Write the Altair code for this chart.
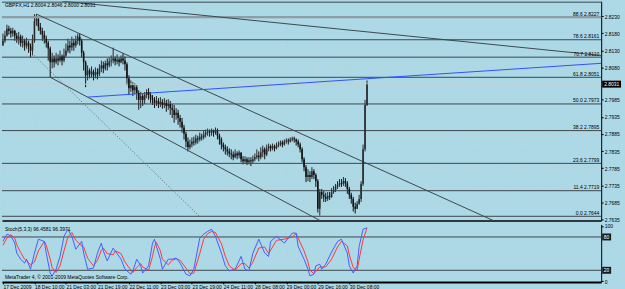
import json
import altair as alt
import pandas as pd

# ---------------- data ----------------
first_open = 2.8144
closes = [2.8158,2.8173,2.8193,2.8187,2.8179,2.8187,2.8173,2.8164,2.8170,2.8152,
2.8158,2.8144,2.8152,2.8141,2.8129,2.8158,2.8216,2.8222,2.8199,2.8187,
2.8176,2.8164,2.8152,2.8135,2.8095,2.8106,2.8095,2.8106,2.8100,2.8112,
2.8100,2.8115,2.8129,2.8144,2.8138,2.8152,2.8144,2.8158,2.8170,2.8158,
2.8123,2.8095,2.8057,2.8071,2.8060,2.8068,2.8057,2.8066,2.8060,2.8077,
2.8086,2.8077,2.8092,2.8086,2.8097,2.8100,2.8106,2.8097,2.8103,2.8095,
2.8106,2.8100,2.8089,2.8048,2.8019,2.8028,2.8013,2.8022,2.8005,2.7985,
2.7996,2.7985,2.7999,2.8008,2.7999,2.7990,2.7985,2.7976,2.7982,2.7973,
2.7979,2.7970,2.7976,2.7967,2.7973,2.7961,2.7956,2.7941,2.7947,2.7932,
2.7921,2.7904,2.7886,2.7863,2.7846,2.7854,2.7863,2.7860,2.7872,2.7869,
2.7877,2.7875,2.7883,2.7889,2.7892,2.7889,2.7895,2.7889,2.7895,2.7880,
2.7869,2.7854,2.7846,2.7840,2.7834,2.7828,2.7825,2.7817,2.7828,2.7822,
2.7831,2.7811,2.7805,2.7811,2.7802,2.7808,2.7805,2.7811,2.7817,2.7822,
2.7817,2.7831,2.7840,2.7825,2.7843,2.7849,2.7843,2.7849,2.7843,2.7851,
2.7854,2.7860,2.7854,2.7863,2.7866,2.7863,2.7869,2.7872,2.7869,2.7863,
2.7854,2.7840,2.7811,2.7788,2.7759,2.7765,2.7759,2.7776,2.7765,2.7747,
2.7666,2.7715,2.7707,2.7701,2.7695,2.7704,2.7701,2.7715,2.7721,2.7730,
2.7736,2.7741,2.7739,2.7747,2.7741,2.7724,2.7707,2.7695,2.7672,2.7666,
2.7681,2.7695,2.7739,2.7840,2.7970,2.8031]
highs = [2.8179,2.8187,2.8205,2.8202,2.8196,2.8196,2.8190,2.8181,2.8184,2.8176,
2.8173,2.8164,2.8167,2.8158,2.8150,2.8176,2.8236,2.8236,2.8225,2.8210,
2.8196,2.8187,2.8173,2.8158,2.8141,2.8123,2.8115,2.8123,2.8118,2.8129,
2.8118,2.8135,2.8150,2.8164,2.8158,2.8170,2.8164,2.8173,2.8179,2.8179,
2.8164,2.8129,2.8100,2.8086,2.8077,2.8083,2.8074,2.8080,2.8077,2.8089,
2.8100,2.8097,2.8100,2.8106,2.8109,2.8115,2.8138,2.8112,2.8118,2.8109,
2.8115,2.8121,2.8112,2.8095,2.8057,2.8042,2.8037,2.8034,2.8028,2.8013,
2.8008,2.8002,2.8008,2.8016,2.8019,2.8008,2.7999,2.7993,2.7996,2.7990,
2.7993,2.7987,2.7990,2.7985,2.7987,2.7982,2.7973,2.7970,2.7961,2.7956,
2.7941,2.7932,2.7912,2.7892,2.7875,2.7869,2.7875,2.7877,2.7883,2.7880,
2.7889,2.7886,2.7895,2.7898,2.7901,2.7898,2.7901,2.7898,2.7904,2.7901,
2.7886,2.7875,2.7860,2.7854,2.7849,2.7843,2.7840,2.7834,2.7840,2.7834,
2.7837,2.7831,2.7820,2.7820,2.7817,2.7817,2.7817,2.7822,2.7828,2.7840,
2.7834,2.7846,2.7851,2.7846,2.7854,2.7857,2.7854,2.7857,2.7854,2.7860,
2.7863,2.7866,2.7866,2.7869,2.7872,2.7872,2.7875,2.7877,2.7877,2.7872,
2.7869,2.7860,2.7846,2.7817,2.7794,2.7782,2.7776,2.7788,2.7782,2.7770,
2.7753,2.7724,2.7724,2.7718,2.7713,2.7715,2.7715,2.7727,2.7733,2.7739,
2.7747,2.7753,2.7753,2.7759,2.7756,2.7747,2.7730,2.7713,2.7701,2.7684,
2.7689,2.7707,2.7747,2.7854,2.7985,2.8042]
lows = [2.8144,2.8152,2.8170,2.8176,2.8167,2.8170,2.8158,2.8152,2.8147,2.8141,
2.8138,2.8129,2.8135,2.8123,2.8109,2.8115,2.8152,2.8202,2.8187,2.8176,
2.8158,2.8150,2.8138,2.8100,2.8051,2.8077,2.8080,2.8089,2.8086,2.8095,
2.8086,2.8095,2.8109,2.8123,2.8121,2.8129,2.8129,2.8138,2.8147,2.8144,
2.8109,2.8071,2.8022,2.8042,2.8048,2.8051,2.8042,2.8048,2.8045,2.8054,
2.8066,2.8063,2.8071,2.8071,2.8080,2.8083,2.8092,2.8086,2.8089,2.8083,
2.8092,2.8089,2.8071,2.8028,2.7999,2.8008,2.7996,2.8002,2.7985,2.7956,
2.7961,2.7967,2.7973,2.7990,2.7985,2.7976,2.7970,2.7961,2.7967,2.7961,
2.7964,2.7959,2.7961,2.7950,2.7956,2.7941,2.7932,2.7918,2.7927,2.7912,
2.7904,2.7889,2.7869,2.7846,2.7834,2.7840,2.7846,2.7851,2.7854,2.7857,
2.7863,2.7866,2.7869,2.7875,2.7880,2.7877,2.7880,2.7877,2.7883,2.7869,
2.7854,2.7840,2.7834,2.7825,2.7822,2.7817,2.7811,2.7808,2.7814,2.7811,
2.7814,2.7802,2.7796,2.7799,2.7794,2.7796,2.7791,2.7799,2.7805,2.7811,
2.7805,2.7811,2.7817,2.7811,2.7820,2.7834,2.7834,2.7837,2.7834,2.7840,
2.7846,2.7849,2.7846,2.7851,2.7857,2.7854,2.7860,2.7863,2.7860,2.7851,
2.7846,2.7831,2.7802,2.7776,2.7744,2.7747,2.7744,2.7753,2.7753,2.7730,
2.7655,2.7646,2.7695,2.7686,2.7686,2.7689,2.7692,2.7698,2.7710,2.7715,
2.7724,2.7730,2.7730,2.7733,2.7730,2.7710,2.7695,2.7681,2.7658,2.7652,
2.7666,2.7678,2.7686,2.7733,2.7834,2.7967]

fib_levels = ["88.6", "78.6", "70.7", "61.8", "50.0", "38.2", "23.6", "11.4", "0.0"]
fib_prices = [2.8227, 2.8161, 2.8110, 2.8051, 2.7973, 2.7895, 2.7799, 2.7719, 2.7644]

price_ticks = [2.8230, 2.8180, 2.8130, 2.8080, 2.7985, 2.7935, 2.7885,
               2.7835, 2.7785, 2.7735, 2.7685, 2.7635]
last_price = 2.8031
top_level = 2.8271

tick_bars = [0, 16, 32, 48, 64, 80, 96, 112, 128, 144, 160, 176]
time_labels = ["17 Dec 2009", "18 Dec 10:00", "21 Dec 03:00", "21 Dec 19:00",
               "22 Dec 11:00", "23 Dec 03:00", "23 Dec 19:00", "24 Dec 11:00",
               "28 Dec 08:00", "29 Dec 00:00", "29 Dec 16:00", "30 Dec 08:00"]

# trend lines: (name, bar, price)
trend_solid = [("upper", 17, 2.8236), ("upper", 249, 2.7632),
               ("lower", 24, 2.8051), ("lower", 161, 2.7632),
               ("long", 30, 2.8274), ("long", 304, 2.8115)]
trend_dotted = [("dot", 5, 2.8176), ("dot", 100, 2.7643)]
trend_blue = [("blue", 43, 2.7993), ("blue", 304, 2.8092)]

stoch_bars = [0,2,4,6,7,9,11,12,14,16,18,21,22,24,25,27,29,31,33,35,37,40,41,43,46,48,50,51,53,56,57,60,62,65,66,68,70,71,74,76,77,78,80,81,84,86,88,90,93,95,97,100,102,104,106,108,111,113,115,118,121,123,125,127,130,133,135,136,139,143,147,149,150,153,155,156,158,159,161,162,164,167,170,172,175,176,178,180,181,183,185]
stoch_k = [72,85,82,69,51,40,33,40,22,51,76,72,51,15,10,22,45,81,94,81,58,72,51,22,24,51,69,55,37,60,55,40,22,13,19,40,28,15,28,69,76,63,40,22,40,40,42,33,13,10,22,78,85,90,94,81,51,28,19,22,45,22,19,51,76,51,45,72,81,69,87,87,63,40,22,10,13,28,31,22,31,53,72,76,51,28,15,28,63,94,96.46]
stoch_d = [65,78,84,78,66,52,40,37,30,35,55,72,65,40,25,16,28,55,80,88,74,64,62,42,28,38,56,60,50,48,55,50,35,20,16,25,32,26,20,45,62,70,55,40,30,38,41,38,24,14,15,50,76,86,90,88,68,45,28,20,32,32,24,35,60,62,50,56,74,76,80,86,78,55,35,20,14,18,26,26,26,40,62,72,64,48,25,20,40,75,96.40]

header_text = "GBPFX,H1  2.8004 2.8046 2.8000 2.8031"
stoch_text = "Stoch(5,3,3) 96.4581 96.3971"
copyright_text = "MetaTrader 4, \u00a9 2001-2009 MetaQuotes Software Corp."

# ---------------- frames ----------------
opens = [first_open] + closes[:-1]
candles = pd.DataFrame({
    "bar": list(range(len(closes))),
    "open": opens, "close": closes, "high": highs, "low": lows,
})
candles["dir"] = ["up" if c >= o else "down" for o, c in zip(opens, closes)]
fib_df = pd.DataFrame({"price": fib_prices,
                       "label": [f"{l}  {p:.4f}" for l, p in zip(fib_levels, fib_prices)]})
solid_df = pd.DataFrame(trend_solid, columns=["line", "bar", "price"])
dotted_df = pd.DataFrame(trend_dotted, columns=["line", "bar", "price"])
blue_df = pd.DataFrame(trend_blue, columns=["line", "bar", "price"])
stoch_df = pd.DataFrame({"bar": stoch_bars, "k": stoch_k, "d": stoch_d})

W = 604
H_MAIN = 221
H_STO = 58
BG = "#ADD8E6"
DARK = "#3b474d"
GRID = "#c4ccd0"
FONT = "Liberation Sans"
FS = 5

x_scale = alt.Scale(domain=[-0.5, 304], nice=False, zero=False)
y_scale = alt.Scale(domain=[2.7632, 2.8274], nice=False, zero=False)
s_scale = alt.Scale(domain=[-0.9, 102.7], nice=False, zero=False)

x_axis_main = alt.Axis(orient="bottom", values=tick_bars, labels=False, ticks=False,
                       grid=True, gridColor=GRID, gridDash=[1, 2], domainColor="#2f383c",
                       domainWidth=2, title=None)
y_axis_main = alt.Axis(orient="right", values=price_ticks, format=".4f", labelFontSize=FS,
                       labelFont=FONT, labelColor="black", tickSize=2, tickColor="black",
                       domainColor="black", labelPadding=1, labelFlush=False,
                       labelOverlap=False, grid=True, gridColor=GRID, gridDash=[1, 2],
                       title=None)

X = alt.X("bar:Q", scale=x_scale, axis=x_axis_main)

def Y(field):
    return alt.Y(f"{field}:Q", scale=y_scale, axis=y_axis_main)

wicks = alt.Chart(candles).mark_rule(strokeWidth=1).encode(
    x=X, y=Y("low"), y2="high",
    color=alt.Color("dir:N", scale=alt.Scale(domain=["up", "down"], range=["#2a2a2a", "#111111"]), legend=None))
bodies = alt.Chart(candles).mark_rule(strokeWidth=1.6).encode(
    x=X, y=Y("open"), y2="close",
    color=alt.Color("dir:N", scale=alt.Scale(domain=["up", "down"], range=["#8c6a30", "#000000"]), legend=None))

fib_rules = alt.Chart(fib_df).mark_rule(color=DARK, strokeWidth=1).encode(y=Y("price"))
fib_top = alt.Chart(fib_df.head(1)).mark_rule(color="#8d9ba2", strokeWidth=2).encode(y=Y("price"))
fib_text = alt.Chart(fib_df).mark_text(align="right", baseline="bottom", fontSize=FS,
                                       font=FONT, color="black", dy=-0.5).encode(
    x=alt.value(W - 2), y=Y("price"), text="label:N")

top_df = pd.DataFrame({"price": [top_level]})
top_rule = alt.Chart(top_df).mark_rule(color=DARK, strokeWidth=1).encode(y=Y("price"))

solid = alt.Chart(solid_df).mark_line(color=DARK, strokeWidth=1, clip=True).encode(
    x=X, y=Y("price"), detail="line:N")
dotted = alt.Chart(dotted_df).mark_line(color="#56646a", strokeWidth=1, strokeDash=[1, 2], clip=True).encode(
    x=X, y=Y("price"), detail="line:N")
blue = alt.Chart(blue_df).mark_line(color="#3050ff", strokeWidth=1, clip=True).encode(
    x=X, y=Y("price"), detail="line:N")

last_df = pd.DataFrame({"price": [last_price], "label": [f"{last_price:.4f}"]})
bid_line = alt.Chart(last_df).mark_rule(color="#c8cccc", strokeWidth=1).encode(y=Y("price"))
last_box = alt.Chart(last_df).mark_rule(color="black", strokeWidth=7).encode(
    x=alt.value(W + 1), x2=alt.value(W + 20), y=Y("price"))
last_text = alt.Chart(last_df).mark_text(align="left", baseline="middle", fontSize=FS,
                                         font=FONT, color="white").encode(
    x=alt.value(W + 3), y=Y("price"), text="label:N")

header = alt.Chart(pd.DataFrame({"t": [header_text]})).mark_text(
    align="left", baseline="top", fontSize=FS, font=FONT, color="black").encode(
    x=alt.value(3), y=alt.value(2), text="t:N")

main = alt.layer(
    wicks, fib_rules, fib_top, top_rule, bid_line, solid, dotted, blue, bodies,
    fib_text, last_box, last_text, header
).properties(width=W, height=H_MAIN)

# ---------------- stochastic ----------------
label_expr = json.dumps(time_labels) + "[datum.value / 16]"
x_axis_sto = alt.Axis(orient="bottom", values=tick_bars, labelExpr=label_expr,
                      labelAlign="left", labelFontSize=FS, labelFont=FONT, labelColor="black",
                      tickSize=2, tickColor="black", domainColor="black", domainWidth=2,
                      labelPadding=1, labelFlush=False, labelOverlap=False,
                      grid=True, gridColor=GRID, gridDash=[1, 2], title=None)
y_axis_sto = alt.Axis(orient="right", values=[100, 0], labelFontSize=FS, labelFont=FONT,
                      labelColor="black", tickSize=2, tickColor="black", domainColor="black",
                      labelPadding=1, labelFlush=False, grid=False, title=None)
XS = alt.X("bar:Q", scale=x_scale, axis=x_axis_sto)

def YS(field):
    return alt.Y(f"{field}:Q", scale=s_scale, axis=y_axis_sto)

lvl_df = pd.DataFrame({"v": [80, 20], "label": ["80", "20"]})
levels = alt.Chart(lvl_df).mark_rule(color=DARK, strokeWidth=1).encode(y=YS("v"))
k_line = alt.Chart(stoch_df).mark_line(color="#4a5cff", strokeWidth=1).encode(x=XS, y=YS("k"))
d_line = alt.Chart(stoch_df).mark_line(color="#ff3838", strokeWidth=1).encode(x=XS, y=YS("d"))
lvl_box = alt.Chart(lvl_df).mark_rule(color="#1a1a1a", strokeWidth=7).encode(
    x=alt.value(W + 1), x2=alt.value(W + 10), y=YS("v"))
lvl_text = alt.Chart(lvl_df).mark_text(align="left", baseline="middle", fontSize=FS,
                                       font=FONT, color="white").encode(
    x=alt.value(W + 2.5), y=YS("v"), text="label:N")
s_title = alt.Chart(pd.DataFrame({"t": [stoch_text]})).mark_text(
    align="left", baseline="top", fontSize=FS, font=FONT, color="black").encode(
    x=alt.value(3), y=alt.value(3), text="t:N")
s_copy = alt.Chart(pd.DataFrame({"t": [copyright_text]})).mark_text(
    align="left", baseline="bottom", fontSize=FS, font=FONT, color="black").encode(
    x=alt.value(3), y=alt.value(H_STO - 2), text="t:N")

stoch = alt.layer(levels, d_line, k_line, lvl_box, lvl_text, s_title, s_copy).properties(
    width=W, height=H_STO)

chart = alt.vconcat(main, stoch, spacing=1).properties(
    background=BG, padding={"left": 0, "top": 0, "right": 0, "bottom": 0}
).configure_view(stroke=None, fill=BG).configure_axis(labelFont=FONT)

chart.save("out.html", embed_options={"renderer": "svg", "actions": False})
